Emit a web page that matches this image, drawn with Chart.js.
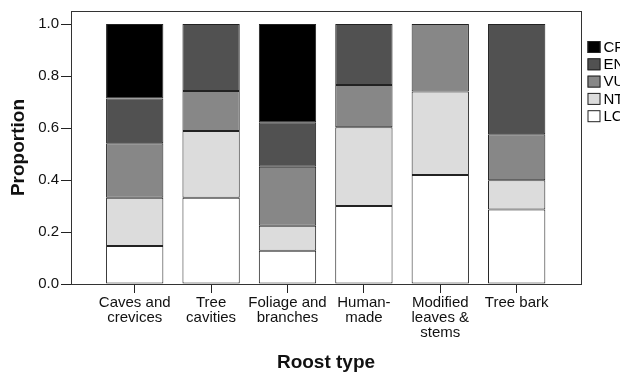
<!DOCTYPE html>
<html>
<head>
<meta charset="utf-8">
<script src="https://cdn.jsdelivr.net/npm/chart.js@4/dist/chart.umd.min.js"></script>
<style>
  html, body { margin: 0; padding: 0; background: #fff; overflow: hidden; }
  #wrap { width: 620px; height: 377px; overflow: hidden; }
</style>
</head>
<body>
<div id="wrap"><canvas id="roostChart" width="650" height="377"></canvas></div>
<script>
// roost types (multi-line tick labels)
const roostTypes = [
    ['Caves and', 'crevices'],
    ['Tree', 'cavities'],
    ['Foliage and', 'branches'],
    ['Human-', 'made'],
    ['Modified', 'leaves &', 'stems'],
    ['Tree bark']
];

// IUCN status proportions per roost type
const lc = [0.146, 0.332, 0.128, 0.300, 0.419, 0.287];
const nt = [0.186, 0.256, 0.096, 0.303, 0.321, 0.112];
const vu = [0.209, 0.154, 0.227, 0.162, 0.260, 0.177];
const en = [0.172, 0.258, 0.171, 0.235, 0.000, 0.424];
const cr = [0.287, 0.000, 0.378, 0.000, 0.000, 0.000];

const yTicks = [0, 0.2, 0.4, 0.6, 0.8, 1.0];

const FONT = "'Liberation Sans', Arial, sans-serif";

// empty segments are left out so they draw no extra edge
function toPoints(values) {
    return values.map((v, i) => ({ x: i, y: v > 0 ? v : null }));
}

// frame round the plot area
const framePlugin = {
    id: 'frame',
    afterDraw(chart) {
        const { ctx, chartArea: a } = chart;
        ctx.save();
        ctx.strokeStyle = '#333';
        ctx.lineWidth = 1;
        ctx.strokeRect(Math.round(a.left) + 0.5, Math.round(a.top) + 0.5,
            Math.round(a.right - a.left), Math.round(a.bottom - a.top));
        ctx.restore();
    }
};

// legend on the right, top item = last dataset
const sideLegend = {
    id: 'sideLegend',
    afterDraw(chart) {
        const { ctx, chartArea: a } = chart;
        const sets = chart.data.datasets.slice().reverse();
        const x = a.right + 6.5;
        let y = a.top + 30;
        ctx.save();
        ctx.font = '15px ' + FONT;
        ctx.textBaseline = 'middle';
        ctx.textAlign = 'left';
        sets.forEach(ds => {
            ctx.fillStyle = ds.backgroundColor;
            ctx.fillRect(x, y, 13, 12);
            ctx.strokeStyle = '#222';
            ctx.lineWidth = 1;
            ctx.strokeRect(x + 0.5, y + 0.5, 12, 11);
            ctx.fillStyle = '#000';
            ctx.fillText(ds.label, x + 16, y + 6.5);
            y += 17.3;
        });
        ctx.restore();
    }
};

const ctx = document.getElementById('roostChart').getContext('2d');
new Chart(ctx, {
    type: 'bar',
    data: {
        datasets: [
            { label: 'LC', data: toPoints(lc), backgroundColor: '#ffffff' },
            { label: 'NT', data: toPoints(nt), backgroundColor: '#dcdcdc' },
            { label: 'VU', data: toPoints(vu), backgroundColor: '#878787' },
            { label: 'EN', data: toPoints(en), backgroundColor: '#515151' },
            { label: 'CR', data: toPoints(cr), backgroundColor: '#000000' }
        ].map(d => Object.assign(d, {
            borderColor: '#222',
            borderWidth: 1,
            borderSkipped: false,
            barPercentage: 1,
            categoryPercentage: 0.75
        }))
    },
    options: {
        responsive: false,
        animation: false,
        devicePixelRatio: 1,
        layout: { padding: { top: 11, right: 69, left: 0, bottom: 0 } },
        plugins: {
            legend: { display: false },
            tooltip: { enabled: false }
        },
        scales: {
            x: {
                type: 'linear',
                stacked: true,
                offset: false,
                min: -0.834,
                max: 5.842,
                afterFit(axis) { axis.height = 93; },
                grid: { drawOnChartArea: false, drawTicks: true, tickLength: 9, color: '#222', offset: false },
                border: { display: true, color: '#333' },
                ticks: {
                    stepSize: 1,
                    includeBounds: false,
                    autoSkip: false,
                    maxRotation: 0,
                    padding: 2,
                    color: '#111',
                    font: { family: FONT, size: 15, lineHeight: 1.0 },
                    callback: (v) => Number.isInteger(v) && roostTypes[v] ? roostTypes[v] : ''
                },
                title: {
                    display: true,
                    text: 'Roost type',
                    color: '#111',
                    font: { family: FONT, size: 19, weight: 'bold' },
                    padding: { top: 0, bottom: 2.6 }
                }
            },
            y: {
                stacked: true,
                min: 0,
                max: 1.05,
                afterFit(axis) { axis.width = 71; },
                grid: { drawOnChartArea: false, drawTicks: true, tickLength: 10, color: '#222' },
                border: { display: true, color: '#333' },
                afterBuildTicks(axis) { axis.ticks = yTicks.map(v => ({ value: v })); },
                ticks: {
                    padding: 2,
                    color: '#111',
                    font: { family: FONT, size: 15 },
                    callback: (v) => Number(v).toFixed(1)
                },
                title: {
                    display: true,
                    text: 'Proportion',
                    color: '#111',
                    font: { family: FONT, size: 19, weight: 'bold' },
                    padding: { top: 7.6, bottom: 0 }
                }
            }
        }
    },
    plugins: [framePlugin, sideLegend]
});
</script>
</body>
</html>
